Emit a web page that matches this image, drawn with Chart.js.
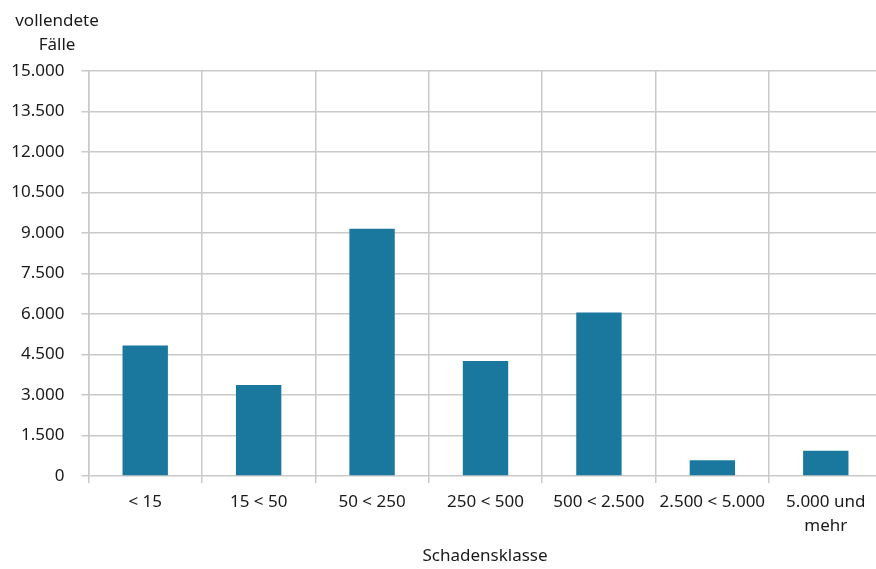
<!DOCTYPE html>
<html>
<head>
<meta charset="utf-8">
<script src="https://cdn.jsdelivr.net/npm/chart.js@4.4.1/dist/chart.umd.min.js"></script>
<style>
  html, body { margin: 0; padding: 0; background: #fff; overflow: hidden; }
  #wrap { width: 884px; height: 569px; }
</style>
</head>
<body>
<div id="wrap"><canvas id="faelleChart" width="884" height="569"></canvas></div>
<script>
// Daten
const kategorien = ['< 15', '15 < 50', '50 < 250', '250 < 500', '500 < 2.500', '2.500 < 5.000', ['5.000 und', 'mehr']];
const faelle = [4830, 3370, 9160, 4255, 6060, 585, 935];
const yMax = 15000;
const yStep = 1500;

const schrift = '"Noto Sans", "Open Sans", sans-serif';
const textFarbe = '#1a1a1a';
const gitterFarbe = '#c9c9c9';

// Zahlen im deutschen Format (Tausenderpunkt)
function formatDE(n) {
    return String(Math.round(n)).replace(/\B(?=(\d{3})+(?!\d))/g, '.');
}

// Achsentitel selbst zeichnen
const titelPlugin = {
    id: 'titel',
    afterDraw(chart) {
        const c = chart.ctx;
        c.save();
        c.fillStyle = textFarbe;
        c.font = '17px ' + schrift;
        c.textAlign = 'center';
        c.textBaseline = 'middle';
        c.fillText('vollendete', 57, 21);
        c.fillText('Fälle', 57, 45);
        c.fillText('Schadensklasse', 485, 556);
        c.restore();
    }
};

const ctx = document.getElementById('faelleChart').getContext('2d');
const faelleChart = new Chart(ctx, {
    type: 'bar',
    data: {
        labels: kategorien,
        datasets: [{
            label: 'vollendete Fälle',
            data: faelle,
            backgroundColor: '#1a789f',
            borderWidth: 0,
            barPercentage: 0.4,
            categoryPercentage: 1.0
        }]
    },
    options: {
        responsive: false,
        animation: false,
        layout: { padding: { top: 71, right: 1.5, left: 0, bottom: 0 } },
        plugins: {
            legend: { display: false },
            tooltip: { enabled: false }
        },
        scales: {
            x: {
                grid: { color: gitterFarbe, lineWidth: 1.5, tickLength: 7, offset: true },
                border: { display: false },
                ticks: {
                    color: textFarbe,
                    font: { family: schrift, size: 17, lineHeight: 1.41 },
                    padding: 7,
                    maxRotation: 0,
                    autoSkip: false
                },
                afterFit(scale) { scale.height = 93; }
            },
            y: {
                min: 0,
                max: yMax,
                grid: { color: gitterFarbe, lineWidth: 1.5, tickLength: 7 },
                border: { color: gitterFarbe, width: 1.5 },
                ticks: {
                    stepSize: yStep,
                    color: textFarbe,
                    font: { family: schrift, size: 17 },
                    padding: 17,
                    callback: (v) => formatDE(v)
                },
                afterFit(scale) { scale.width = 88.5; }
            }
        }
    },
    plugins: [titelPlugin]
});
</script>
</body>
</html>
